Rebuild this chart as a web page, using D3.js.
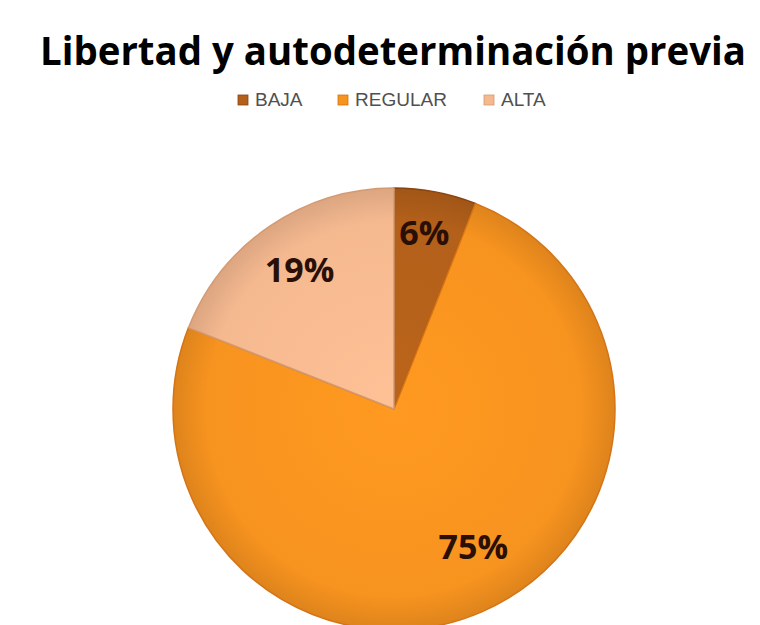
<!DOCTYPE html>
<html><head><meta charset="utf-8">
<script src="https://cdn.jsdelivr.net/npm/d3@7"></script>
<style>html,body{margin:0;padding:0;background:#fff;}</style>
</head><body>
<svg id="chart" width="760" height="625"></svg>
<script>
const title = "Libertad y autodeterminación previa";
const categories = ["BAJA", "REGULAR", "ALTA"];
const values = [6, 75, 19];
const labels = ["6%", "75%", "19%"];
const colors = ["#b3601a", "#f7931f", "#f5b990"];
const edgeColors = ["#8a4410", "#d47416", "#d49a72"];

const svg = d3.select("#chart");
const cx = 394, cy = 409, r = 221;

const defs = svg.append("defs");
colors.forEach((c, i) => {
  const g = defs.append("radialGradient").attr("id", "g" + i)
    .attr("gradientUnits", "userSpaceOnUse")
    .attr("cx", 0).attr("cy", 0).attr("r", r);
  g.append("stop").attr("offset", "0%").attr("stop-color", d3.color(c).brighter(0.12));
  g.append("stop").attr("offset", "85%").attr("stop-color", c);
  g.append("stop").attr("offset", "100%").attr("stop-color", d3.color(c).darker(0.3));
});

svg.append("text").attr("x", 393).attr("y", 65).attr("text-anchor", "middle")
  .attr("font-family", "Open Sans, sans-serif").attr("font-weight", "bold")
  .attr("font-size", 39).attr("textLength", 706).attr("lengthAdjust", "spacingAndGlyphs")
  .attr("fill", "#000").text(title);

// legend
const legendX = d3.scaleOrdinal().domain(categories).range([238, 338, 484]);
const lg = svg.append("g").selectAll("g").data(categories).join("g")
  .attr("transform", d => `translate(${legendX(d)},106)`);
lg.append("rect").attr("x", 0).attr("y", -11).attr("width", 10).attr("height", 10)
  .attr("fill", (d, i) => colors[i]).attr("stroke", (d, i) => edgeColors[i]).attr("stroke-width", 0.8);
lg.append("text").attr("x", 17).attr("y", 0)
  .attr("font-family", "Liberation Sans, Arial, sans-serif").attr("font-size", 19)
  .attr("fill", "#505050").text(d => d);

const pie = d3.pie().sort(null).value(d => d);
const arcs = pie(values);
const arc = d3.arc().innerRadius(0).outerRadius(r);
const g = svg.append("g").attr("transform", `translate(${cx},${cy})`);
g.selectAll("path").data(arcs).join("path")
  .attr("d", arc).attr("fill", (d, i) => `url(#g${i})`)
  .attr("stroke", (d, i) => edgeColors[i]).attr("stroke-width", 1.5);

// label placement: fraction along slice angle, fraction of radius
const labelAngleFrac = [0.45, 0.476, 0.5];
const labelRadFrac = [0.81, 0.72, 0.76];
g.selectAll("text.lbl").data(arcs).join("text").attr("class", "lbl")
  .attr("transform", (d, i) => {
    const a = d.startAngle + (d.endAngle - d.startAngle) * labelAngleFrac[i];
    const rr = r * labelRadFrac[i];
    return `translate(${Math.sin(a) * rr},${-Math.cos(a) * rr})`;
  })
  .attr("text-anchor", "middle").attr("dy", "0.36em")
  .attr("font-family", "Open Sans, sans-serif").attr("font-weight", "bold")
  .attr("font-size", 34).attr("fill", "#2a0f05").text((d, i) => labels[i]);
</script>
</body></html>
